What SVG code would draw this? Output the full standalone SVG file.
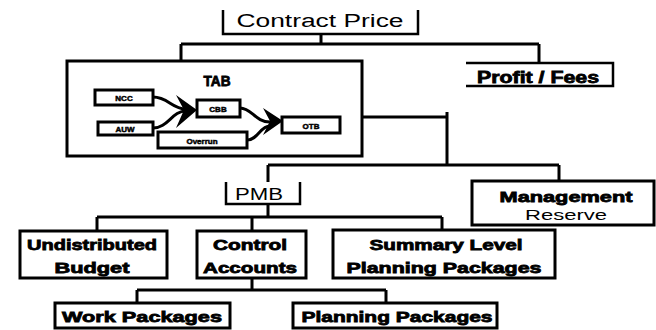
<svg xmlns="http://www.w3.org/2000/svg" width="656" height="330" viewBox="0 0 656 330">
<style>
.bx{fill:#fff;stroke:#000;stroke-width:3}
.br{fill:none;stroke:#000;stroke-width:2.5}
.ln{fill:none;stroke:#000;stroke-width:3}
.t{font-family:"Liberation Sans",Arial,sans-serif;font-weight:bold;fill:#000;stroke:#000;stroke-width:0.8;text-anchor:middle}
.r{font-family:"Liberation Sans",Arial,sans-serif;fill:#000;text-anchor:middle}
.s{font-family:"Liberation Sans",Arial,sans-serif;font-weight:bold;fill:#000;stroke:#000;stroke-width:0.5;text-anchor:middle;font-size:8px}
</style>
<rect width="656" height="330" fill="#fff"/>
<g id="connectors">
<path class="ln" d="M321,34 V44 M181,44 H539 M181,44 V61 M539,44 V62 M362,117 H447 M447,112 V165 M268,165 H559 M268,165 V182 M559,165 V181 M268,204 V217 M97,217 H442 M97,217 V231 M252,217 V231 M442,217 V230 M252,278 V290 M137,290 H386 M137,290 V303 M386,290 V303"/>
</g>
<g id="contract-price">
<path class="br" d="M223,10 V34 H418 V10"/>
<text class="r" x="320" y="27" font-size="18" textLength="167" lengthAdjust="spacingAndGlyphs">Contract Price</text>
</g>
<g id="profit-fees">
<path class="br" d="M466,63 H613 V86 H466"/>
<text class="t" x="538" y="83" font-size="16" textLength="122" lengthAdjust="spacingAndGlyphs">Profit / Fees</text>
</g>
<g id="tab">
<rect class="bx" x="67" y="61" width="295" height="95"/>
<text class="t" x="217" y="86" font-size="14" textLength="27" lengthAdjust="spacingAndGlyphs">TAB</text>
</g>
<g id="ncc">
<rect class="bx" x="95" y="90" width="58" height="15"/>
<text class="s" x="124" y="101">NCC</text>
</g>
<g id="auw">
<rect class="bx" x="98" y="122" width="55" height="13"/>
<text class="s" x="125" y="132">AUW</text>
</g>
<g id="cbb">
<rect class="bx" x="197" y="100" width="43" height="17"/>
<text class="s" x="218" y="112">CBB</text>
</g>
<g id="overrun">
<rect class="bx" x="158" y="132" width="89" height="16"/>
<text class="s" x="202" y="144">Overrun</text>
</g>
<g id="otb">
<rect class="bx" x="282" y="117" width="58" height="16"/>
<text class="s" x="311" y="129">OTB</text>
</g>
<g id="tab-arrows">
<path class="ln" d="M153,97 C168,97 172,109 186,109 M153,128 C168,128 172,111 186,111 M240,108 C252,108 255,122 270,122 M247,140 C258,140 260,126 270,126"/>
<path d="M176,95 L197,110 L176,128 L184,110 Z" fill="#000"/>
<path d="M263,108 L283,121 L263,135 L270,121 Z" fill="#000"/>
</g>
<g id="pmb">
<path class="br" d="M226,182 V204 H300 V182"/>
<text class="r" x="259" y="200" font-size="16" textLength="48" lengthAdjust="spacingAndGlyphs">PMB</text>
</g>
<g id="management-reserve">
<rect class="bx" x="472" y="181" width="182" height="44"/>
<text class="t" x="566" y="202" font-size="15" textLength="133" lengthAdjust="spacingAndGlyphs">Management</text>
<text class="r" x="566" y="220" font-size="15" textLength="82" lengthAdjust="spacingAndGlyphs">Reserve</text>
</g>
<g id="undistributed-budget">
<rect class="bx" x="20" y="231" width="147" height="47"/>
<text class="t" x="92" y="250" font-size="15" textLength="130" lengthAdjust="spacingAndGlyphs">Undistributed</text>
<text class="t" x="92" y="273" font-size="15" textLength="75" lengthAdjust="spacingAndGlyphs">Budget</text>
</g>
<g id="control-accounts">
<rect class="bx" x="197" y="231" width="109" height="47"/>
<text class="t" x="250" y="250" font-size="15" textLength="74" lengthAdjust="spacingAndGlyphs">Control</text>
<text class="t" x="250" y="273" font-size="15" textLength="94" lengthAdjust="spacingAndGlyphs">Accounts</text>
</g>
<g id="summary-level-planning-packages">
<rect class="bx" x="333" y="230" width="222" height="48"/>
<text class="t" x="446" y="250" font-size="15" textLength="153" lengthAdjust="spacingAndGlyphs">Summary Level</text>
<text class="t" x="444" y="273" font-size="15" textLength="195" lengthAdjust="spacingAndGlyphs">Planning Packages</text>
</g>
<g id="work-packages">
<rect class="bx" x="55" y="303" width="175" height="25"/>
<text class="t" x="142" y="322" font-size="15" textLength="160" lengthAdjust="spacingAndGlyphs">Work Packages</text>
</g>
<g id="planning-packages">
<rect class="bx" x="293" y="303" width="204" height="25"/>
<text class="t" x="397" y="322" font-size="15" textLength="191" lengthAdjust="spacingAndGlyphs">Planning Packages</text>
</g>
</svg>
